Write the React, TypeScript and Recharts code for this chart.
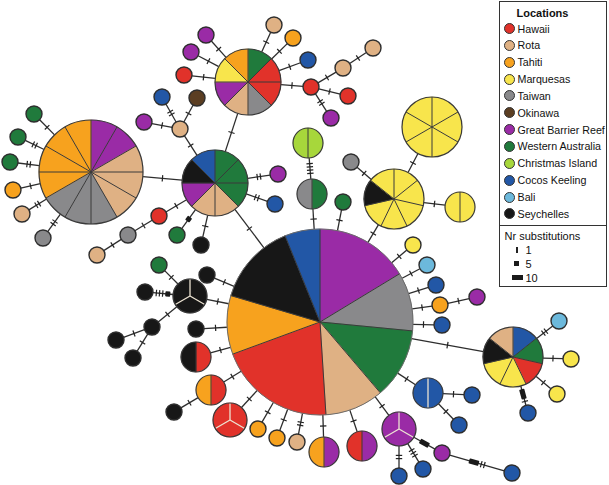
import { ScatterChart, Scatter, XAxis, YAxis, ReferenceLine, Sector, Legend } from 'recharts';

const W = 609;
const H = 485;
const FONT = '"Liberation Sans", Arial, Helvetica, sans-serif';

// sampling locations
const LOCATIONS = [
  'Hawaii', 'Rota', 'Tahiti', 'Marquesas', 'Taiwan', 'Okinawa',
  'Great Barrier Reef', 'Western Australia', 'Christmas Island',
  'Cocos Keeling', 'Bali', 'Seychelles',
];
const CODES = ['H', 'R', 'T', 'M', 'W', 'O', 'G', 'A', 'C', 'K', 'B', 'S'];
const COLORS = [
  '#e1322a', '#dfb184', '#f7a21e', '#f8e54c', '#89898b', '#5b3e22',
  '#9a2ba6', '#207a3c', '#a7d73b', '#2257a6', '#6cb9dc', '#171717',
];

// haplotypes: id, x, y, individuals clockwise from 12 o'clock
const HAPLOTYPES: [string, number, number, string][] = [
  ['c0', 320, 322, 'GGGGGGGGWWWWWAAAAAARRRRRHHHHHHHHHHTTTTTSSSSSSSKKK'],
  ['p1', 91, 172, 'GGRRRWWWTTTT'],
  ['p2', 248, 82, 'AHHWRGMT'],
  ['p3', 215, 183, 'AAARRGSK'],
  ['p4', 394, 199, 'MMMMMSM'],
  ['p5', 432, 127, 'MMMMMM'],
  ['p6', 460, 207, 'MM'],
  ['p7', 308, 143, 'CC'],
  ['p8', 312, 194, 'AW'],
  ['p9', 190, 296, 'SSS'],
  ['p10', 196, 357, 'HS'],
  ['p11', 211, 390, 'HT'],
  ['p12', 230, 420, 'HHH'],
  ['p13', 324, 452, 'GT'],
  ['p14', 362, 446, 'GH'],
  ['p15', 399, 429, 'GGG'],
  ['p16', 428, 393, 'KK'],
  ['p17', 513, 357, 'KAHMMSR'],
  ['l1', 274, 25, 'R'],
  ['l2', 293, 38, 'T'],
  ['l3', 308, 60, 'K'],
  ['l4', 311, 87, 'H'],
  ['l5', 343, 68, 'R'],
  ['l6', 373, 48, 'R'],
  ['l7', 348, 96, 'H'],
  ['l8', 331, 118, 'G'],
  ['l9', 206, 35, 'G'],
  ['l10', 191, 52, 'G'],
  ['l11', 184, 75, 'H'],
  ['l12', 180, 129, 'R'],
  ['l13', 197, 98, 'O'],
  ['l14', 162, 97, 'K'],
  ['l15', 144, 122, 'G'],
  ['l16', 34, 114, 'A'],
  ['l17', 18, 137, 'A'],
  ['l18', 10, 162, 'A'],
  ['l19', 13, 190, 'T'],
  ['l20', 22, 214, 'R'],
  ['l21', 43, 238, 'W'],
  ['l22', 278, 174, 'G'],
  ['l23', 275, 204, 'K'],
  ['l24', 159, 216, 'H'],
  ['l25', 128, 235, 'W'],
  ['l26', 97, 255, 'R'],
  ['l27', 177, 235, 'A'],
  ['l28', 201, 245, 'S'],
  ['l29', 351, 162, 'W'],
  ['l30', 343, 202, 'A'],
  ['l31', 413, 245, 'M'],
  ['l32', 427, 265, 'B'],
  ['l33', 436, 285, 'K'],
  ['l34', 440, 305, 'T'],
  ['l35', 477, 297, 'G'],
  ['l36', 442, 325, 'K'],
  ['l37', 472, 395, 'K'],
  ['l38', 459, 425, 'K'],
  ['l39', 559, 321, 'B'],
  ['l40', 571, 359, 'M'],
  ['l41', 557, 394, 'M'],
  ['l42', 528, 413, 'K'],
  ['l43', 442, 453, 'G'],
  ['l44', 512, 473, 'K'],
  ['l45', 423, 469, 'K'],
  ['l46', 399, 476, 'K'],
  ['l47', 297, 442, 'R'],
  ['l48', 277, 438, 'T'],
  ['l49', 258, 429, 'T'],
  ['l50', 174, 412, 'S'],
  ['l51', 196, 329, 'S'],
  ['l52', 207, 275, 'S'],
  ['l53', 159, 265, 'A'],
  ['l54', 145, 292, 'S'],
  ['l55', 152, 327, 'S'],
  ['l56', 116, 340, 'S'],
  ['l57', 133, 358, 'S'],
];

// links: from, to, number of substitutions
const LINKS: [string, string, number][] = [
  ['p2', 'l1', 1], ['p2', 'l2', 1], ['p2', 'l3', 1], ['p2', 'l4', 1],
  ['l4', 'l5', 1], ['l5', 'l6', 1], ['l4', 'l7', 1], ['l4', 'l8', 2],
  ['p2', 'l9', 1], ['p2', 'l10', 1], ['p2', 'l11', 1],
  ['l12', 'l13', 1], ['l12', 'l14', 2], ['l12', 'l15', 1], ['l12', 'p3', 1],
  ['p2', 'p3', 1],
  ['p1', 'l16', 1], ['p1', 'l17', 2], ['p1', 'l18', 2], ['p1', 'l19', 1],
  ['p1', 'l20', 2], ['p1', 'l21', 2], ['p1', 'p3', 1],
  ['p3', 'l22', 2], ['p3', 'l23', 2], ['p3', 'l24', 1], ['l24', 'l25', 1],
  ['l25', 'l26', 1], ['p3', 'l27', 5], ['p3', 'l28', 1], ['p3', 'c0', 1],
  ['p7', 'p8', 4], ['p8', 'c0', 1], ['l30', 'c0', 1], ['l29', 'p4', 1],
  ['p4', 'c0', 1], ['p5', 'p4', 1], ['p6', 'p4', 1],
  ['c0', 'l31', 1], ['c0', 'l32', 1], ['c0', 'l33', 1], ['c0', 'l34', 1],
  ['l34', 'l35', 1], ['c0', 'l36', 1], ['c0', 'p17', 1], ['c0', 'p16', 1],
  ['p16', 'l37', 1], ['p16', 'l38', 1],
  ['p17', 'l39', 2], ['p17', 'l40', 1], ['p17', 'l41', 1], ['p17', 'l42', 11],
  ['c0', 'p15', 1], ['p15', 'l43', 10], ['l43', 'l44', 12], ['p15', 'l45', 3],
  ['p15', 'l46', 2],
  ['c0', 'p14', 1], ['c0', 'p13', 1], ['c0', 'l47', 2], ['c0', 'l48', 1],
  ['c0', 'l49', 1], ['c0', 'p12', 1], ['c0', 'p11', 1], ['p11', 'l50', 1],
  ['c0', 'p10', 1], ['c0', 'l51', 1], ['c0', 'l52', 1], ['c0', 'p9', 1],
  ['p9', 'l53', 1], ['p9', 'l54', 8], ['p9', 'l55', 1], ['l55', 'l56', 1],
  ['l55', 'l57', 1],
];

const SUBST_KEYS = ['1', '5', '10'];

// node size by haplotype frequency
const SIZE_STOPS: [number, number][] = [[1, 8], [2, 15], [3, 17], [6, 30], [7, 30], [8, 33], [12, 52], [49, 93]];

function radiusOf(n: number) {
  for (let i = 0; i < SIZE_STOPS.length - 1; i++) {
    const [n0, r0] = SIZE_STOPS[i];
    const [n1, r1] = SIZE_STOPS[i + 1];
    if (n >= n0 && n <= n1) return r0 + ((n - n0) / (n1 - n0)) * (r1 - r0);
  }
  return SIZE_STOPS[SIZE_STOPS.length - 1][1];
}

const colorOf = (code: string) => COLORS[CODES.indexOf(code)];

const nodes = HAPLOTYPES.map(([id, x, y, inds]) => ({ id, x, y, inds }));
const nodeById: Record<string, { id: string; x: number; y: number; inds: string }> = {};
nodes.forEach(n => { nodeById[n.id] = n; });

function HaploShape(props: any) {
  const { cx, cy, payload } = props;
  const inds: string = payload.inds;
  const n = inds.length;
  const r = radiusOf(n);
  const step = 360 / n;

  if (n === 1) {
    return <circle cx={cx} cy={cy} r={r} fill={colorOf(inds)} stroke="#2e2e2e" strokeWidth={1.4} />;
  }

  // big haplotype: one slice per location
  const merge = n > 20;
  const parts: { code: string; from: number; to: number }[] = [];
  for (let i = 0; i < n; i++) {
    const last = parts[parts.length - 1];
    if (merge && last && last.code === inds[i]) last.to = i + 1;
    else parts.push({ code: inds[i], from: i, to: i + 1 });
  }
  const uniform = inds.split('').every(c => c === inds[0]);
  const lightDiv = uniform && 'HGKS'.includes(inds[0]);
  const divColor = lightDiv ? '#ece3d2' : '#3a3a3a';

  return (
    <g>
      {parts.map((p, i) => (
        <Sector
          key={i}
          cx={cx}
          cy={cy}
          innerRadius={0}
          outerRadius={r}
          startAngle={90 - p.from * step}
          endAngle={90 - p.to * step}
          fill={colorOf(p.code)}
          stroke={colorOf(p.code)}
          strokeWidth={0.5}
        />
      ))}
      {parts.map((p, i) => {
        const a = (p.from * step * Math.PI) / 180;
        return (
          <line
            key={'d' + i}
            x1={cx}
            y1={cy}
            x2={cx + r * Math.sin(a)}
            y2={cy - r * Math.cos(a)}
            stroke={divColor}
            strokeWidth={lightDiv ? 1.3 : 1}
          />
        );
      })}
      <circle cx={cx} cy={cy} r={r} fill="none" stroke={merge ? '#6a6a6a' : '#3a3a3a'} strokeWidth={merge ? 1 : 1.2} />
    </g>
  );
}

function makeLinkShape(ra: number, rb: number, subs: number) {
  return (p: any) => {
    const { x1, y1, x2, y2 } = p;
    const dx = x2 - x1;
    const dy = y2 - y1;
    const len = Math.hypot(dx, dy) || 1;
    const ux = dx / len;
    const uy = dy / len;
    const sx = x1 + ux * ra;
    const sy = y1 + uy * ra;
    const ex = x2 - ux * rb;
    const ey = y2 - uy * rb;
    const mx = (sx + ex) / 2;
    const my = (sy + ey) / 2;
    const deg = (Math.atan2(dy, dx) * 180) / Math.PI;

    const marks: { kind: string; w: number }[] = [];
    for (let i = 0; i < Math.floor(subs / 10); i++) marks.push({ kind: 'ten', w: 10 });
    for (let i = 0; i < Math.floor((subs % 10) / 5); i++) marks.push({ kind: 'five', w: 5 });
    for (let i = 0; i < subs % 5; i++) marks.push({ kind: 'one', w: 1.2 });
    const gap = 2;
    const total = marks.reduce((s, m) => s + m.w, 0) + gap * (marks.length - 1);
    let pos = -total / 2;

    return (
      <g>
        <line x1={sx} y1={sy} x2={ex} y2={ey} stroke="#2e2e2e" strokeWidth={1.3} />
        <g transform={`translate(${mx},${my}) rotate(${deg})`}>
          {marks.map((m, i) => {
            const x = pos;
            pos += m.w + gap;
            if (m.kind === 'one') {
              return <line key={i} x1={x + 0.6} y1={-3.2} x2={x + 0.6} y2={3.2} stroke="#222" strokeWidth={1.2} />;
            }
            return <rect key={i} x={x} y={-2.6} width={m.w} height={5.2} rx={0.8} fill="#1a1a1a" />;
          })}
        </g>
      </g>
    );
  };
}

function LegendBox() {
  return (
    <div
      style={{
        position: 'relative',
        width: 106,
        height: 284,
        border: '1.5px solid #333',
        background: '#fff',
        fontFamily: FONT,
        fontSize: 10.7,
        color: '#111',
        lineHeight: '14px',
      }}
    >
      <div style={{ position: 'absolute', left: 16.5, top: 3.5, fontWeight: 'bold', fontSize: 11 }}>Locations</div>
      {LOCATIONS.map((name, i) => (
        <div
          key={name}
          style={{ position: 'absolute', left: 4, top: 19.5 + i * 16.85, height: 14, display: 'flex', alignItems: 'center', whiteSpace: 'nowrap' }}
        >
          <span
            style={{
              display: 'inline-block',
              width: 9,
              height: 9,
              borderRadius: '50%',
              background: COLORS[i],
              border: '1px solid #333',
              marginRight: 2.5,
            }}
          />
          {name}
        </div>
      ))}
      <div style={{ position: 'absolute', left: 0, right: 0, top: 222.5, borderTop: '1.5px solid #333' }} />
      <div style={{ position: 'absolute', left: 4.5, top: 226.5, whiteSpace: 'nowrap', fontSize: 11 }}>Nr substitutions</div>
      {SUBST_KEYS.map((k, i) => (
        <div key={k} style={{ position: 'absolute', left: 0, top: 240.5 + i * 14, height: 14, width: 100, fontSize: 11 }}>
          {k === '1' && <span style={{ position: 'absolute', left: 16, top: 4, width: 1.5, height: 6, background: '#222' }} />}
          {k === '5' && <span style={{ position: 'absolute', left: 13.5, top: 4.5, width: 5, height: 5, background: '#1a1a1a' }} />}
          {k === '10' && <span style={{ position: 'absolute', left: 12, top: 4.8, width: 11, height: 4.5, background: '#1a1a1a' }} />}
          <span style={{ position: 'absolute', left: 25.5, top: 0 }}>{k}</span>
        </div>
      ))}
    </div>
  );
}

export default function App() {
  return (
    <div style={{ position: 'absolute', left: 0, top: 0, width: W, height: H, background: '#fff' }}>
      <ScatterChart width={W} height={H} margin={{ top: 0, right: 0, bottom: 0, left: 0 }}>
        <XAxis type="number" dataKey="x" domain={[0, W]} hide />
        <YAxis type="number" dataKey="y" domain={[0, H]} reversed hide />
        {LINKS.map(([a, b, subs], i) => {
          const na = nodeById[a];
          const nb = nodeById[b];
          return (
            <ReferenceLine
              key={i}
              segment={[{ x: na.x, y: na.y }, { x: nb.x, y: nb.y }]}
              ifOverflow="visible"
              shape={makeLinkShape(radiusOf(na.inds.length), radiusOf(nb.inds.length), subs)}
            />
          );
        })}
        <Scatter data={nodes} shape={HaploShape} isAnimationActive={false} />
        <Legend
          layout="vertical"
          align="center"
          verticalAlign="middle"
          wrapperStyle={{ left: 499, top: 1, width: 109, height: 287 }}
          content={() => <LegendBox />}
        />
      </ScatterChart>
    </div>
  );
}
